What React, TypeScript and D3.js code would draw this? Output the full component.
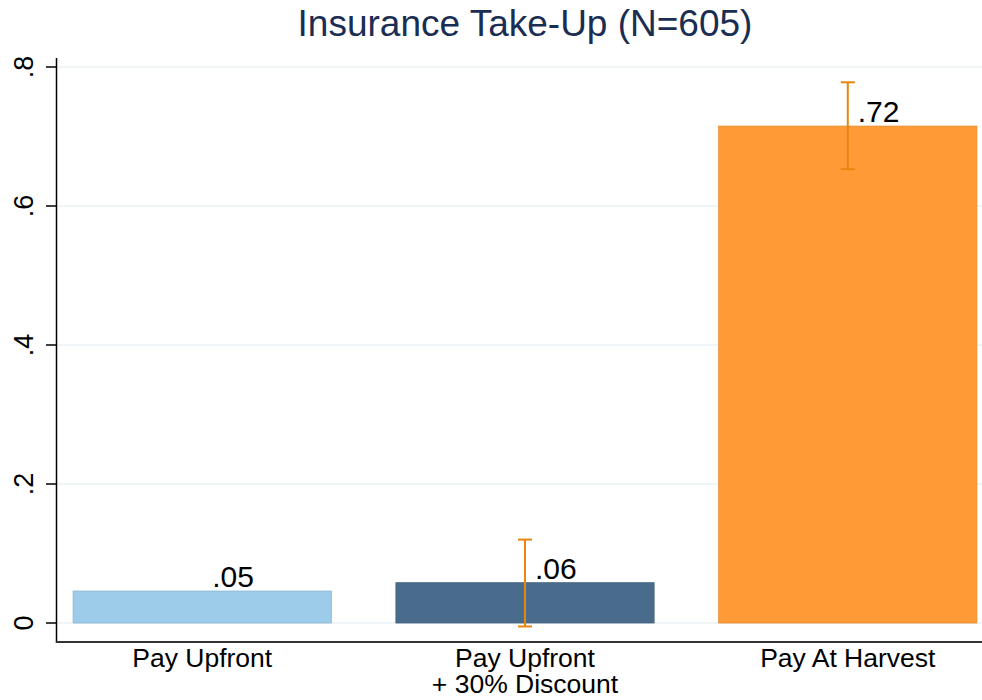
import { useEffect, useRef } from 'react';
import * as d3 from 'd3';

const categories = ['Pay Upfront', 'Pay Upfront\n+ 30% Discount', 'Pay At Harvest'];
const takeUp = [0.046, 0.058, 0.715];
const labels = ['.05', '.06', '.72'];
const ciLow = [null, -0.005, 0.653];
const ciHigh = [null, 0.12, 0.778];
const barColors = ['#9dcbea', '#4a6c8c', '#ff9b37'];
const yTicks = [0, 0.2, 0.4, 0.6, 0.8];
const yTickLabels = ['0', '.2', '.4', '.6', '.8'];

const App = () => {
  const ref = useRef<SVGSVGElement>(null!);

  useEffect(() => {
    const width = 982;
    const height = 700;
    const font = '"Liberation Sans", Arial, sans-serif';
    const x = d3
      .scaleBand<number>()
      .domain(d3.range(categories.length))
      .range([56, 994])
      .paddingInner(0.2)
      .paddingOuter(0.053);
    const y = d3.scaleLinear().domain([0, 0.8]).range([623, 67]);

    const svg = d3.select(ref.current).attr('width', width).attr('height', height);
    svg.selectAll('*').remove();
    svg.append('rect').attr('width', width).attr('height', height).attr('fill', '#fff');

    // grid
    svg
      .append('g')
      .selectAll('line')
      .data(yTicks)
      .enter()
      .append('line')
      .attr('x1', 57)
      .attr('x2', width)
      .attr('y1', d => y(d))
      .attr('y2', d => y(d))
      .attr('stroke', '#eaf0f3')
      .attr('stroke-width', 1.5);

    // bars
    svg
      .append('g')
      .selectAll('rect')
      .data(takeUp)
      .enter()
      .append('rect')
      .attr('x', (_, i) => x(i)!)
      .attr('width', x.bandwidth())
      .attr('y', d => y(d))
      .attr('height', d => y(0) - y(d))
      .attr('fill', (_, i) => barColors[i])
      .attr('stroke', (_, i) => d3.color(barColors[i])!.darker(0.3).toString())
      .attr('stroke-width', 0.8);

    // error bars
    const eb = svg.append('g').attr('stroke', '#e8850f').attr('stroke-width', 2);
    takeUp.forEach((_, i) => {
      const lo = ciLow[i];
      const hi = ciHigh[i];
      if (lo == null || hi == null) return;
      const cx = x(i)! + x.bandwidth() / 2;
      eb.append('line').attr('x1', cx).attr('x2', cx).attr('y1', y(lo)).attr('y2', y(hi));
      eb.append('line').attr('x1', cx - 7).attr('x2', cx + 7).attr('y1', y(lo)).attr('y2', y(lo));
      eb.append('line').attr('x1', cx - 7).attr('x2', cx + 7).attr('y1', y(hi)).attr('y2', y(hi));
    });

    // value labels
    svg
      .append('g')
      .selectAll('text')
      .data(takeUp)
      .enter()
      .append('text')
      .attr('x', (_, i) => x(i)! + x.bandwidth() / 2 + 10)
      .attr('y', d => y(d) - 4)
      .attr('font-family', font)
      .attr('font-size', 30)
      .attr('fill', '#000')
      .text((_, i) => labels[i]);

    // y axis
    svg.append('line').attr('x1', 56.5).attr('x2', 56.5).attr('y1', 58).attr('y2', 643).attr('stroke', '#000').attr('stroke-width', 1.5);
    const yt = svg.append('g');
    yTicks.forEach((t, i) => {
      yt.append('line').attr('x1', 46).attr('x2', 56).attr('y1', y(t)).attr('y2', y(t)).attr('stroke', '#000').attr('stroke-width', 1.5);
      yt.append('text')
        .attr('transform', `translate(33,${y(t)}) rotate(-90)`)
        .attr('text-anchor', 'middle')
        .attr('font-family', font)
        .attr('font-size', 27)
        .attr('fill', '#000')
        .text(yTickLabels[i]);
    });

    // x axis
    svg.append('line').attr('x1', 56).attr('x2', width).attr('y1', 642).attr('y2', 642).attr('stroke', '#333').attr('stroke-width', 2);
    categories.forEach((c, i) => {
      const t = svg
        .append('text')
        .attr('x', x(i)! + x.bandwidth() / 2)
        .attr('y', 667)
        .attr('text-anchor', 'middle')
        .attr('font-family', font)
        .attr('font-size', 26.5)
        .attr('fill', '#000');
      c.split('\n').forEach((line, j) => {
        t.append('tspan').attr('x', x(i)! + x.bandwidth() / 2).attr('dy', j === 0 ? 0 : 26).text(line);
      });
    });

    // title
    svg
      .append('text')
      .attr('x', 525)
      .attr('y', 36)
      .attr('text-anchor', 'middle')
      .attr('font-family', font)
      .attr('font-size', 37)
      .attr('fill', '#1a2d52')
      .text('Insurance Take-Up (N=605)');
  }, []);

  return <svg ref={ref} style={{ position: 'absolute', left: 0, top: 0 }}></svg>;
};

export default App;
